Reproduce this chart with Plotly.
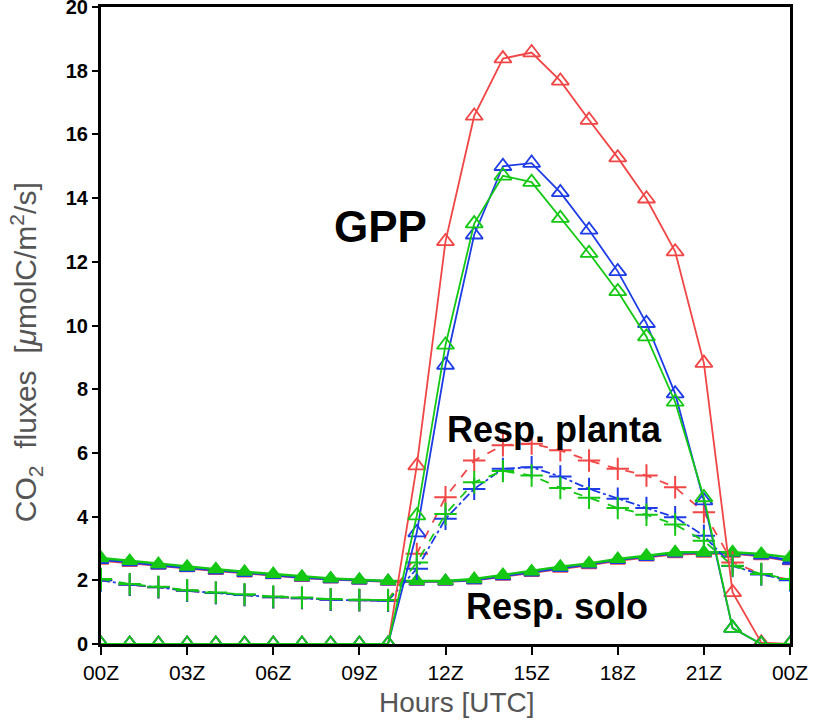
import plotly.graph_objects as go

hours = list(range(25))

gpp_red = [0]*11 + [5.6, 12.64, 16.58, 18.38, 18.57, 17.68, 16.45, 15.27, 13.98, 12.32, 8.82, 1.62, 0.04, 0]
gpp_blue = [0]*11 + [3.5, 8.76, 12.85, 15.0, 15.1, 14.18, 13.0, 11.7, 10.07, 7.86, 4.5, 0.5, 0.0, 0]
gpp_green = [0]*11 + [4.03, 9.39, 13.2, 14.7, 14.5, 13.37, 12.27, 11.07, 9.65, 7.6, 4.6, 0.5, 0.0, 0]

rp_red = [2.0, 1.86, 1.78, 1.67, 1.6, 1.54, 1.47, 1.44, 1.39, 1.37, 1.36,
          2.83, 4.61, 5.76, 6.24, 6.29, 6.08, 5.76, 5.5, 5.29, 4.92, 4.14, 2.56, 2.2, 2.02]
rp_blue = [2.0, 1.86, 1.78, 1.67, 1.6, 1.54, 1.47, 1.44, 1.39, 1.37, 1.36,
           2.36, 3.93, 4.87, 5.5, 5.55, 5.26, 4.87, 4.56, 4.27, 3.98, 3.4, 2.45, 2.18, 2.0]
rp_green = [2.04, 1.88, 1.8, 1.69, 1.62, 1.56, 1.49, 1.46, 1.41, 1.39, 1.38,
            2.56, 4.08, 5.08, 5.43, 5.29, 4.9, 4.59, 4.27, 4.06, 3.75, 3.24, 2.46, 2.2, 2.04]

rs_red = [2.62, 2.55, 2.46, 2.38, 2.3, 2.22, 2.16, 2.08, 2.03, 1.99, 1.96,
          1.96, 1.96, 2.0, 2.12, 2.23, 2.37, 2.48, 2.62, 2.72, 2.82, 2.84, 2.84, 2.76, 2.6]
rs_blue = [2.64, 2.57, 2.47, 2.39, 2.31, 2.23, 2.17, 2.09, 2.04, 2.0, 1.97,
           1.97, 1.97, 2.01, 2.13, 2.25, 2.39, 2.5, 2.64, 2.74, 2.85, 2.86, 2.86, 2.78, 2.62]
rs_green = [2.7, 2.61, 2.51, 2.43, 2.35, 2.27, 2.2, 2.11, 2.06, 2.02, 1.98,
            1.98, 1.98, 2.04, 2.17, 2.28, 2.43, 2.53, 2.67, 2.77, 2.88, 2.88, 2.88, 2.83, 2.72]

xtick_vals = [0, 3, 6, 9, 12, 15, 18, 21, 24]
xtick_text = ["00Z", "03Z", "06Z", "09Z", "12Z", "15Z", "18Z", "21Z", "00Z"]
ytick_vals = [0, 2, 4, 6, 8, 10, 12, 14, 16, 18, 20]

RED = "rgb(240,70,70)"
BLUE = "rgb(30,60,230)"
GREEN = "rgb(20,200,20)"

fig = go.Figure()

def add(y, color, dash, symbol, size, width=1.8, mlw=1.8):
    fig.add_trace(go.Scatter(
        x=hours, y=y, mode="lines+markers",
        line=dict(color=color, width=width, dash=dash),
        marker=dict(symbol=symbol, size=size, color=color,
                    line=dict(color=color, width=mlw)),
        showlegend=False))

# soil respiration
add(rs_red, RED, "solid", "triangle-up", 13, 2.4)
add(rs_blue, BLUE, "solid", "triangle-up", 13, 2.4)
add(rs_green, GREEN, "solid", "triangle-up", 13, 2.4)
# plant respiration
add(rp_red, RED, "dash", "cross-thin", 16, 1.8, 2)
add(rp_blue, BLUE, "dashdot", "cross-thin", 16, 1.8, 2)
add(rp_green, GREEN, "dash", "cross-thin", 16, 1.8, 2)
# GPP
add(gpp_red, RED, "solid", "triangle-up-open", 15)
add(gpp_blue, BLUE, "solid", "triangle-up-open", 15)
add(gpp_green, GREEN, "solid", "triangle-up-open", 15)

fig.add_annotation(x=9.75, y=13.1, text="GPP", showarrow=False,
                   font=dict(family="Liberation Sans, Arial", size=44, color="black", weight=700))
fig.add_annotation(x=15.8, y=6.75, text="Resp. planta", showarrow=False,
                   font=dict(family="Liberation Sans, Arial", size=36, color="black", weight=700))
fig.add_annotation(x=15.9, y=1.18, text="Resp. solo", showarrow=False,
                   font=dict(family="Liberation Sans, Arial", size=36, color="black", weight=700))

# y-axis title
fig.add_annotation(xref="paper", yref="paper", x=-0.109, y=0.458,
                   xanchor="center", yanchor="middle", textangle=-90, showarrow=False,
                   text="CO<sub>2</sub>\u00a0\u00a0fluxes\u00a0\u00a0[<i>μ</i>molC/m<sup>2</sup>/s]",
                   font=dict(family="Liberation Sans, Arial", size=30, color="#555555"))
# x-axis title
fig.add_annotation(xref="paper", yref="paper", x=0.516, y=-0.092,
                   xanchor="center", yanchor="middle", showarrow=False,
                   text="Hours [UTC]",
                   font=dict(family="Liberation Sans, Arial", size=28, color="#555555"))

fig.update_layout(
    width=817, height=721,
    margin=dict(l=101, r=27, t=7, b=77, autoexpand=False),
    paper_bgcolor="white", plot_bgcolor="white",
)
fig.update_xaxes(
    range=[0, 24], tickvals=xtick_vals, ticktext=xtick_text,
    showgrid=False, zeroline=False, automargin=False,
    showline=True, linecolor="black", linewidth=3, mirror=True,
    ticks="outside", ticklen=8, tickwidth=2, tickcolor="black",
    ticklabeloverflow="allow",
    tickfont=dict(family="Liberation Sans, Arial", size=21, color="black"),
)
fig.update_yaxes(
    range=[0, 20], tickvals=ytick_vals,
    showgrid=False, zeroline=False, automargin=False,
    showline=True, linecolor="black", linewidth=3, mirror=True,
    ticks="outside", ticklen=6, tickwidth=2, tickcolor="black",
    ticklabeloverflow="allow",
    tickfont=dict(family="Liberation Sans, Arial", size=20, color="black", weight=700),
)

fig.write_html("out.html")
